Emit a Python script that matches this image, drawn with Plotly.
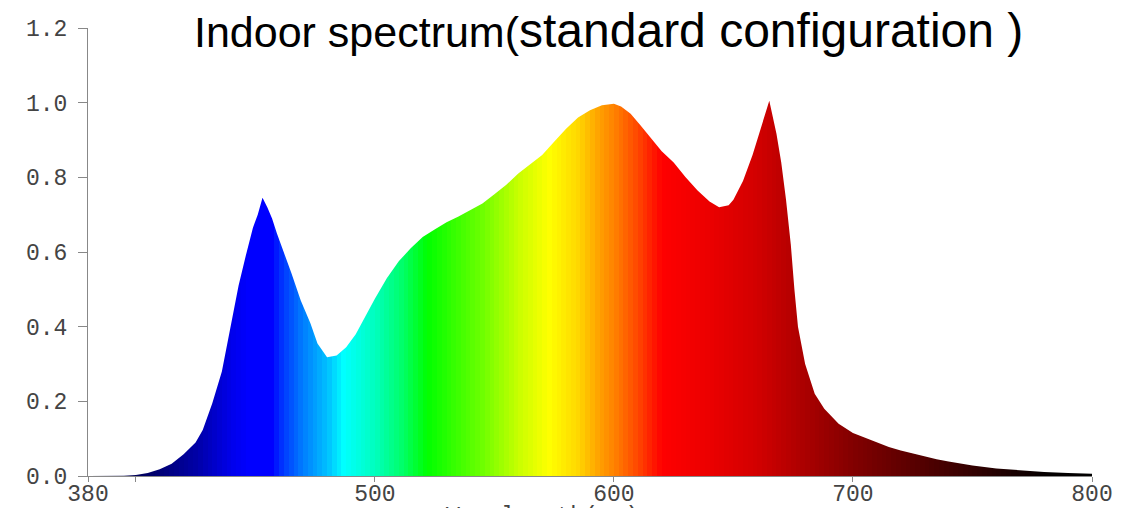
import plotly.graph_objects as go

# Spectrum (wavelength nm -> relative intensity)
wavelength = [380, 390, 395, 400, 405, 410, 415, 420, 425, 428, 432, 436, 440, 443, 446, 449, 451, 453,
              455, 457, 459, 462, 465, 469, 473, 476, 480, 484, 488, 492, 495, 500, 505, 510, 515, 520,
              525, 530, 535, 540, 545, 550, 555, 560, 565, 570, 575, 580, 585, 590, 595, 600, 603, 607,
              611, 615, 620, 625, 630, 635, 640, 644, 648, 650, 654, 658, 661, 665, 668, 670, 672, 674,
              675.5, 677, 680, 684, 688, 694, 700, 705, 710, 715, 720, 725, 730, 735, 740, 745, 750,
              760, 770, 780, 790, 800]
intensity = [0.0, 0.0, 0.001, 0.003, 0.008, 0.018, 0.033, 0.058, 0.09, 0.123, 0.195, 0.28, 0.41, 0.51,
             0.59, 0.665, 0.70, 0.745, 0.72, 0.69, 0.65, 0.60, 0.545, 0.47, 0.41, 0.355, 0.318, 0.323,
             0.345, 0.38, 0.417, 0.475, 0.53, 0.575, 0.61, 0.64, 0.66, 0.68, 0.695, 0.712, 0.73, 0.755,
             0.78, 0.81, 0.835, 0.86, 0.895, 0.93, 0.96, 0.98, 0.993, 0.997, 0.99, 0.97, 0.94, 0.91,
             0.87, 0.84, 0.80, 0.765, 0.735, 0.72, 0.725, 0.74, 0.79, 0.86, 0.925, 1.005, 0.917, 0.84,
             0.74, 0.62, 0.50, 0.40, 0.30, 0.22, 0.18, 0.14, 0.115, 0.102, 0.09, 0.078, 0.068, 0.06,
             0.052, 0.045, 0.039, 0.033, 0.028, 0.02, 0.015, 0.011, 0.008, 0.006]

# Colour stops of the spectral fill (wavelength -> colour)
color_wl = [380, 405, 425, 440, 447, 457, 462, 470, 480, 487, 500, 512, 522, 545, 560, 573, 585,
            593, 600, 610, 620, 640, 660, 700, 740, 780, 800]
color_rgb = ["rgb(0,0,50)", "rgb(0,0,100)", "rgb(0,0,165)", "rgb(0,0,235)", "rgb(0,0,255)",
             "rgb(0,0,255)", "rgb(0,60,255)", "rgb(0,125,255)", "rgb(0,190,255)", "rgb(0,255,255)",
             "rgb(0,255,190)", "rgb(0,255,100)", "rgb(0,255,0)", "rgb(110,255,0)", "rgb(200,255,0)",
             "rgb(255,255,0)", "rgb(255,215,0)", "rgb(255,165,0)", "rgb(255,130,0)", "rgb(255,70,0)",
             "rgb(255,0,0)", "rgb(235,0,0)", "rgb(210,0,0)", "rgb(130,0,0)", "rgb(65,0,0)",
             "rgb(5,0,0)", "rgb(0,0,0)"]

y_ticks = [0.0, 0.2, 0.4, 0.6, 0.8, 1.0, 1.2]
y_ticktext = ["0.0", "0.2", "0.4", "0.6", "0.8", "1.0", "1.2"]
x_ticks = [380, 400, 500, 600, 700, 800]
x_ticktext = ["380", "", "500", "600", "700", "800"]

title_a = "Indoor spectrum("
title_b = "standard configuration )"
x_title = "Wavelength(nm)"

WL_MIN, WL_MAX, Y_MAX = 380, 800, 1.2

# colour strips (2 nm wide) used as the fill behind the curve
edges = list(range(WL_MIN, WL_MAX + 1, 2))
mids = [(a + b) / 2 for a, b in zip(edges[:-1], edges[1:])]
cscale = [[(w - WL_MIN) / (WL_MAX - WL_MIN), c] for w, c in zip(color_wl, color_rgb)]

fig = go.Figure()
fig.add_trace(go.Heatmap(
    x=edges, y=[0, Y_MAX], z=[mids], zmin=WL_MIN, zmax=WL_MAX,
    colorscale=cscale, showscale=False, hoverinfo="skip", zsmooth=False,
))
# white mask above the curve
fig.add_trace(go.Scatter(
    x=wavelength + [WL_MAX, WL_MIN], y=intensity + [Y_MAX, Y_MAX],
    fill="toself", fillcolor="white", mode="lines", line=dict(width=0, color="white"),
    hoverinfo="skip", showlegend=False,
))

tick_font = dict(family="Liberation Mono", size=23, color="#444444")
fig.update_layout(
    width=1123, height=508,
    margin=dict(l=88, r=31, t=28, b=32, autoexpand=False),
    paper_bgcolor="white", plot_bgcolor="white",
    showlegend=False,
    title=dict(
        text=f"<span style='font-size:43px'>{title_a}</span>{title_b}",
        font=dict(family="Liberation Sans", size=48, color="black"),
        x=0.542, xanchor="center", y=0.94, yanchor="middle",
    ),
)
fig.update_xaxes(
    range=[WL_MIN, WL_MAX], tickvals=x_ticks, ticktext=x_ticktext, automargin=False,
    showgrid=False, zeroline=False, showline=True, linecolor="#888888", linewidth=1,
    ticks="outside", ticklen=5, tickcolor="#888888", tickfont=tick_font,
    ticklabelstandoff=-9,
)
fig.update_yaxes(
    range=[0, Y_MAX], tickvals=y_ticks, ticktext=y_ticktext, automargin=False,
    showgrid=False, zeroline=False, showline=True, linecolor="#888888", linewidth=1,
    ticks="outside", ticklen=9, tickcolor="#888888", tickfont=tick_font,
    ticklabelstandoff=6,
)
fig.add_annotation(
    x=570, xref="x", y=-0.058, yref="paper", yanchor="top", xanchor="center",
    text=x_title, showarrow=False, font=tick_font,
)

fig.write_html(
    "out.html",
    config={"displayModeBar": False},
    post_script="document.body.style.margin='0';document.body.style.overflow='hidden';",
)
